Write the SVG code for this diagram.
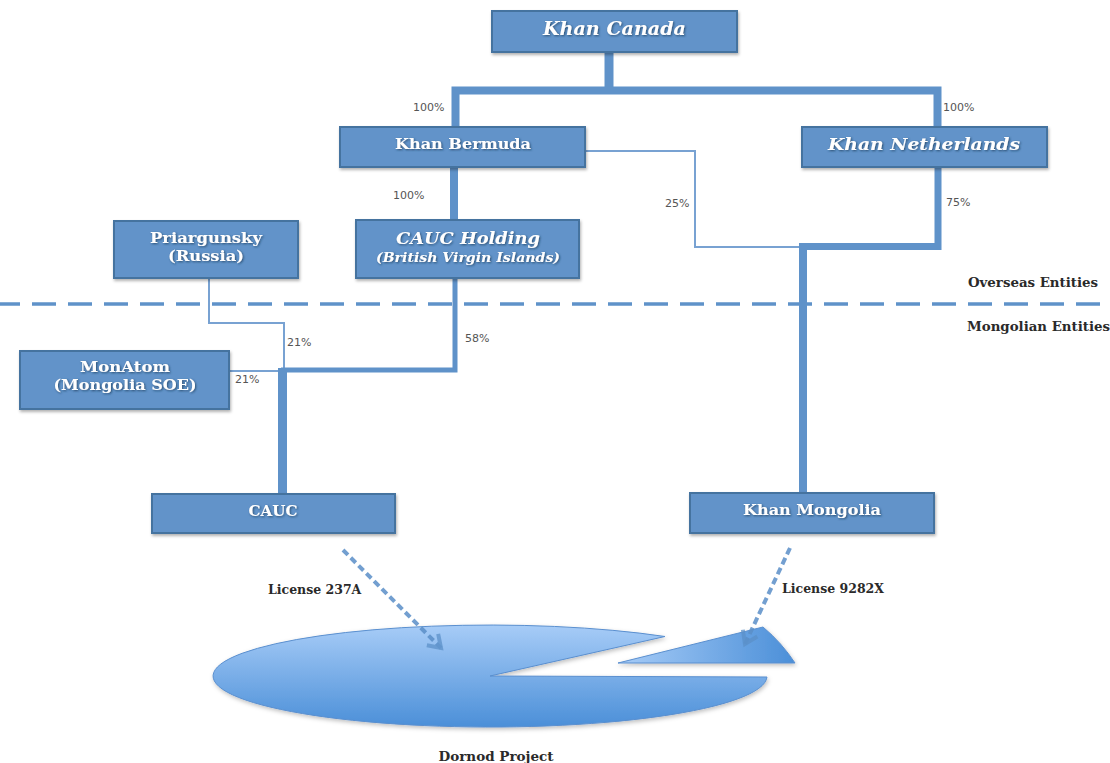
<svg xmlns="http://www.w3.org/2000/svg" width="1110" height="763" viewBox="0 0 1110 763">
<style>
.box{fill:#6293c9;stroke:#44739f;stroke-width:2;filter:url(#sh)}
.bt{font-family:"DejaVu Serif","Liberation Serif",serif;font-weight:bold;fill:#ffffff;text-anchor:middle;filter:url(#tsh)}
.it{font-style:italic}
.c{fill:none;stroke:#5f92c9;stroke-linejoin:miter;stroke-linecap:butt}
.thin{stroke:#78a2d2;stroke-width:2}
.pct{font-family:"DejaVu Sans","Liberation Sans",sans-serif;font-size:11px;fill:#555555}
.lbl{font-family:"DejaVu Serif","Liberation Serif",serif;font-weight:bold;font-size:12.5px;fill:#2a2a2a}
.dash{fill:none;stroke:#5b8fc8;stroke-width:4;stroke-dasharray:7 4;opacity:0.85}
</style>
<defs>
<filter id="sh" x="-10%" y="-20%" width="120%" height="150%"><feDropShadow dx="1" dy="2" stdDeviation="1.5" flood-color="#000" flood-opacity="0.3"/></filter>
<filter id="tsh" x="-10%" y="-30%" width="120%" height="160%"><feDropShadow dx="1" dy="1" stdDeviation="0.8" flood-color="#1e3a5a" flood-opacity="0.8"/></filter>
<filter id="psh" x="-10%" y="-20%" width="120%" height="150%"><feDropShadow dx="1" dy="2" stdDeviation="2" flood-color="#000" flood-opacity="0.25"/></filter>
<linearGradient id="pg" x1="0" y1="0" x2="0" y2="1"><stop offset="0" stop-color="#a7ccf7"/><stop offset="1" stop-color="#4b8fd8"/></linearGradient>
<linearGradient id="wg" x1="0" y1="0" x2="1" y2="0"><stop offset="0" stop-color="#a7ccf7"/><stop offset="1" stop-color="#4b8fd8"/></linearGradient>
<marker id="ah" markerUnits="userSpaceOnUse" markerWidth="22" markerHeight="22" refX="14" refY="10" orient="auto" overflow="visible"><path d="M2,2 L14,10 L2,18" fill="none" stroke="#5b8fc8" stroke-width="4" opacity="0.85"/></marker>
</defs>
<rect width="1110" height="763" fill="#ffffff"/>

<g id="divider">
<line x1="0" y1="304" x2="1110" y2="304" stroke="#5f92c9" stroke-width="3.5" stroke-dasharray="24 12" stroke-dashoffset="4"/>
<text class="lbl" x="968" y="287" textLength="130" lengthAdjust="spacingAndGlyphs">Overseas Entities</text>
<text class="lbl" x="967" y="331" textLength="143" lengthAdjust="spacingAndGlyphs">Mongolian Entities</text>
</g>

<g id="dornod-project">
<path d="M490,676 L665,636.5 A277 51 0 1 0 767,677 Z" fill="url(#pg)" stroke="#5a8fcf" stroke-width="1" filter="url(#psh)"/>
<path d="M618,663 L763,627 Q782,643 795,663 Z" fill="url(#wg)" stroke="#5a8fcf" stroke-width="1" filter="url(#psh)"/>
<text class="lbl" x="496" y="761" text-anchor="middle" textLength="115" lengthAdjust="spacingAndGlyphs">Dornod Project</text>
</g>

<g id="connectors">
<path class="c" d="M609,52 V91" stroke-width="9"/>
<path class="c" d="M455.5,127 V90.5 H937.5 V127" stroke-width="8"/>
<path class="c" d="M454,167 V220" stroke-width="8"/>
<path class="c thin" d="M585,151 H695 V247 H803"/>
<path class="c" d="M938,167 V246.5 H799" stroke-width="7"/>
<path class="c" d="M803,244 V493" stroke-width="8"/>
<path class="c thin" d="M209,278 V323 H284 V371"/>
<path class="c" d="M455,278 V370 H281" stroke-width="5"/>
<path class="c thin" d="M229,371 H283"/>
<path class="c" d="M282.5,368 V494" stroke-width="9"/>
<text class="pct" x="413" y="111">100%</text>
<text class="pct" x="943" y="111">100%</text>
<text class="pct" x="393" y="199">100%</text>
<text class="pct" x="665" y="207">25%</text>
<text class="pct" x="946" y="206">75%</text>
<text class="pct" x="287" y="346">21%</text>
<text class="pct" x="465" y="342">58%</text>
<text class="pct" x="235" y="383">21%</text>
<path class="dash" d="M343,550 L441,648" marker-end="url(#ah)"/>
<path class="dash" d="M790,548 L745,644" marker-end="url(#ah)"/>
<text class="lbl" x="268" y="594">License 237A</text>
<text class="lbl" x="782" y="593">License 9282X</text>
</g>

<g id="khan-canada">
<rect class="box" x="492" y="11" width="245" height="41"/>
<text class="bt it" x="614.5" y="35" font-size="18" textLength="143" lengthAdjust="spacingAndGlyphs">Khan Canada</text>
</g>
<g id="khan-bermuda">
<rect class="box" x="340" y="127" width="245" height="40"/>
<text class="bt" x="463" y="149" font-size="15" textLength="136" lengthAdjust="spacingAndGlyphs">Khan Bermuda</text>
</g>
<g id="khan-netherlands">
<rect class="box" x="802" y="127" width="245" height="40"/>
<text class="bt it" x="924" y="150" font-size="17" textLength="192" lengthAdjust="spacingAndGlyphs">Khan Netherlands</text>
</g>
<g id="priargunsky">
<rect class="box" x="114" y="221" width="184" height="57"/>
<text class="bt" x="206" y="243" font-size="15" textLength="112" lengthAdjust="spacingAndGlyphs">Priargunsky</text>
<text class="bt" x="206" y="261" font-size="15" textLength="76" lengthAdjust="spacingAndGlyphs">(Russia)</text>
</g>
<g id="cauc-holding">
<rect class="box" x="356" y="220" width="223" height="58"/>
<text class="bt it" x="468" y="244" font-size="17" textLength="144" lengthAdjust="spacingAndGlyphs">CAUC Holding</text>
<text class="bt it" x="468" y="262" font-size="12" textLength="184" lengthAdjust="spacingAndGlyphs">(British Virgin Islands)</text>
</g>
<g id="monatom">
<rect class="box" x="20" y="351" width="209" height="58"/>
<text class="bt" x="125" y="372" font-size="15" textLength="90" lengthAdjust="spacingAndGlyphs">MonAtom</text>
<text class="bt" x="125" y="390" font-size="15" textLength="143" lengthAdjust="spacingAndGlyphs">(Mongolia SOE)</text>
</g>
<g id="cauc">
<rect class="box" x="152" y="494" width="243" height="39"/>
<text class="bt" x="273" y="516" font-size="15" textLength="49" lengthAdjust="spacingAndGlyphs">CAUC</text>
</g>
<g id="khan-mongolia">
<rect class="box" x="690" y="493" width="244" height="40"/>
<text class="bt" x="812" y="515" font-size="15" textLength="138" lengthAdjust="spacingAndGlyphs">Khan Mongolia</text>
</g>
</svg>
